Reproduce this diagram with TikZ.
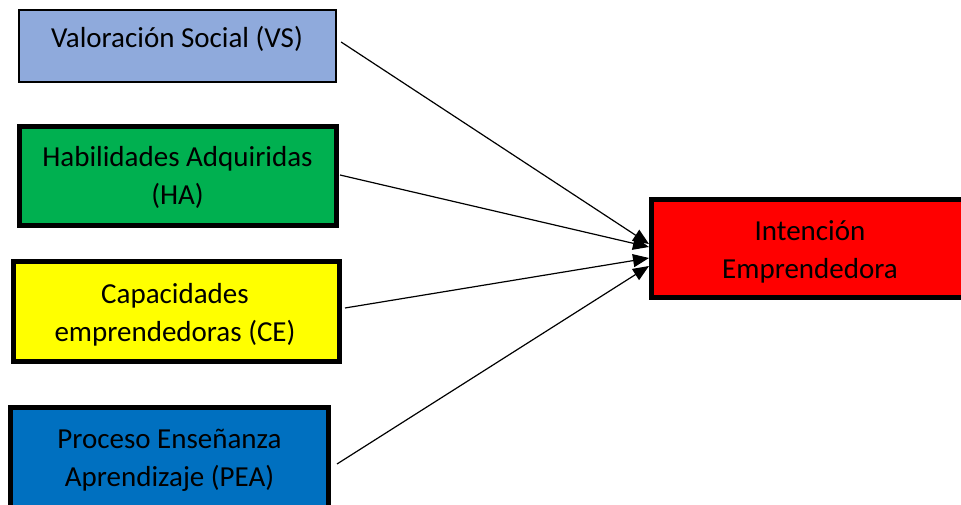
\documentclass[tikz,border=0pt]{standalone}
\usepackage{fontspec}
\setmainfont{Carlito}
\usetikzlibrary{arrows.meta}
\definecolor{vsblue}{HTML}{8FAADC}
\definecolor{hagreen}{HTML}{00B050}
\definecolor{ceyellow}{HTML}{FFFF00}
\definecolor{peablue}{HTML}{0070C0}
\definecolor{iered}{HTML}{FF0000}
\tikzset{
  box/.style={draw=black, line width=5pt, rectangle, inner sep=0pt},
  thinbox/.style={box, line width=2.2pt},
  label text/.style={inner sep=0pt, align=center, text=black,
    font=\fontsize{29}{38}\selectfont},
  arr/.style={line width=1.2pt, -{Triangle[length=16pt,width=13pt]}}
}
\begin{document}
\begin{tikzpicture}[x=1pt,y=-1pt]
\useasboundingbox (0,0) rectangle (961,505);
% boxes
\node[thinbox, fill=vsblue, minimum width=317pt, minimum height=72pt] (VS) at (177.5,46) {};
\node[box, fill=hagreen, minimum width=317pt, minimum height=99pt] (HA) at (178,176) {};
\node[box, fill=ceyellow, minimum width=326pt, minimum height=100pt] (CE) at (176.5,311.5) {};
\node[box, fill=peablue, minimum width=318pt, minimum height=110pt] (PEA) at (169.5,462.5) {};
\node[box, fill=iered, minimum width=318.5pt, minimum height=98pt] (IE) at (810.75,248.5) {};
% texts
\node[label text] (VSt) at (177,40.4) {\strut Valoración Social (VS)};
\node[label text] (HAt) at (177.5,178.4) {\strut Habilidades Adquiridas\\\strut (HA)};
\node[label text] (CEt) at (175,314.4) {\strut Capacidades\\\strut emprendedoras (CE)};
\node[label text] (PEAt) at (169.5,459.5) {\strut Proceso Enseñanza\\\strut Aprendizaje (PEA)};
\node[label text] (IEt) at (810,251.4) {\strut Intención\\\strut Emprendedora};
% connectors
\draw[arr] ([xshift=4pt,yshift=4pt]VS.east) -- ([yshift=4.5pt]IE.west);
\draw[arr] ([xshift=1pt,yshift=1pt]HA.east) -- ([yshift=1.5pt]IE.west);
\draw[arr] ([xshift=3pt,yshift=3.5pt]CE.east) -- ([yshift=-9.5pt]IE.west);
\draw[arr] ([xshift=6pt,yshift=-1.5pt]PEA.east) -- ([yshift=-17.5pt]IE.west);
\end{tikzpicture}
\end{document}
